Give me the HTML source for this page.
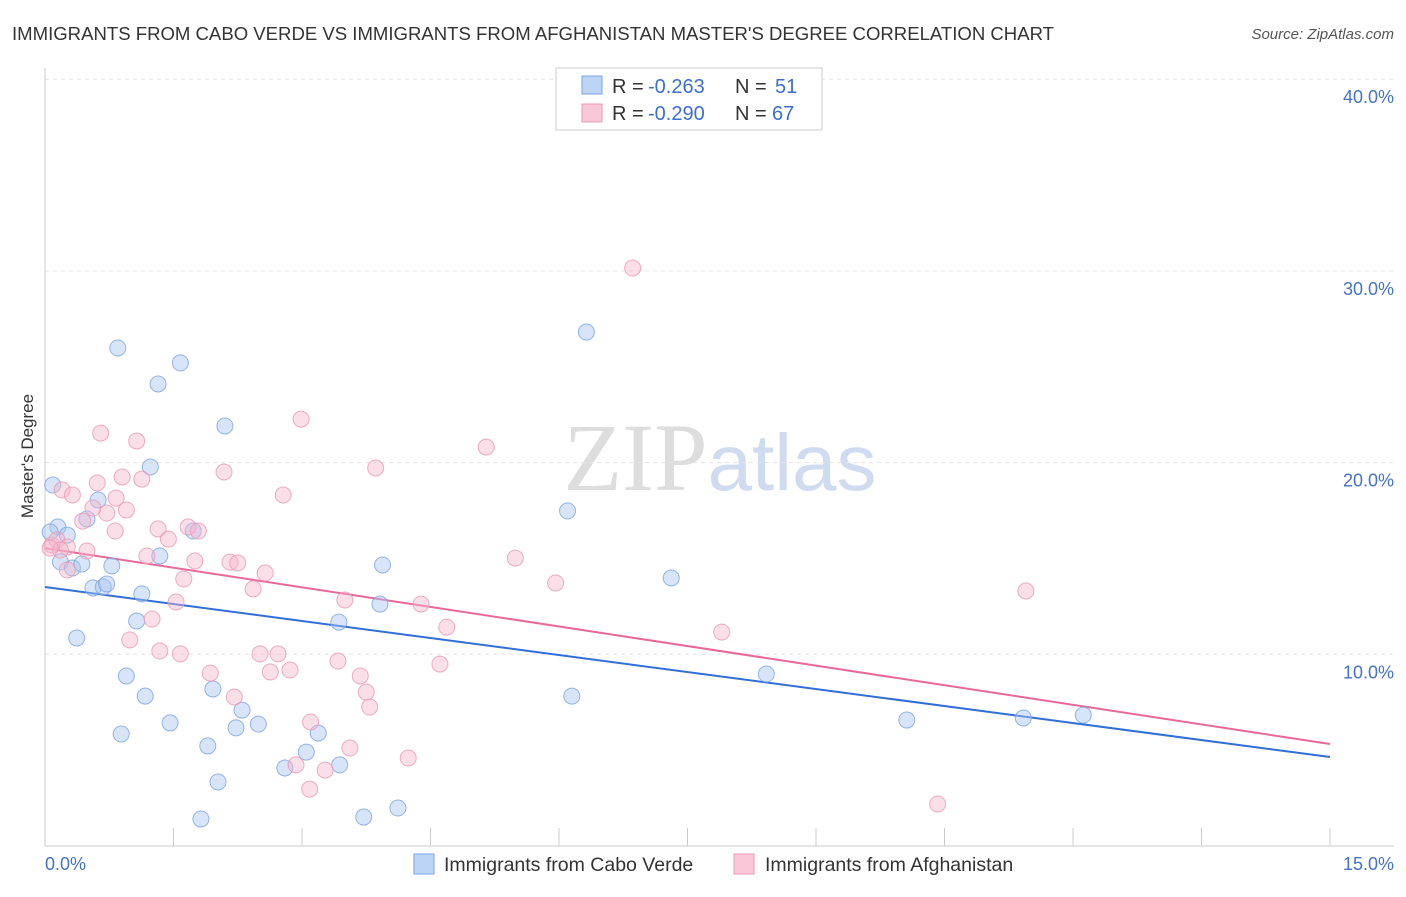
<!DOCTYPE html>
<html><head><meta charset="utf-8"><style>
body{margin:0;background:#fff;font-family:"Liberation Sans",sans-serif;}
</style></head><body>
<svg width="1406" height="892" xmlns="http://www.w3.org/2000/svg" font-family="Liberation Sans, sans-serif">
<text x="12" y="40" font-size="18" fill="#333" textLength="1042" lengthAdjust="spacingAndGlyphs">IMMIGRANTS FROM CABO VERDE VS IMMIGRANTS FROM AFGHANISTAN MASTER'S DEGREE CORRELATION CHART</text>
<text x="1394" y="39" font-size="15" fill="#555" text-anchor="end" font-style="italic">Source: ZipAtlas.com</text>
<text x="720" y="490" font-size="96" text-anchor="middle"><tspan fill="#ddd" font-family="Liberation Serif, serif">ZIP</tspan><tspan fill="#cfdcf0" font-size="80">atlas</tspan></text>
<g id="grid"></g><g id="axes"></g><g id="lines"></g><g id="pts"></g>
<text transform="translate(33,456) rotate(-90)" font-size="17" fill="#333" text-anchor="middle">Master's Degree</text>
<text x="45" y="870" font-size="18" fill="#4472c4">0.0%</text>
<text x="1394" y="870" font-size="18" fill="#4472c4" text-anchor="end">15.0%</text>
<g>
<rect x="556" y="68" width="266" height="62" fill="#fff" stroke="#ccc"/>
<rect x="582" y="76" width="20" height="18" fill="#bcd4f5" stroke="#7aa4e0"/>
<rect x="582" y="104" width="20" height="18" fill="#f9c8d8" stroke="#e89ab5"/>
<text x="612" y="93" font-size="20" fill="#333">R =</text>
<text x="648" y="93" font-size="20" fill="#3a6fd1">-0.263</text>
<text x="735" y="93" font-size="20" fill="#333">N =</text>
<text x="775" y="93" font-size="20" fill="#3a6fd1">51</text>
<text x="612" y="120" font-size="20" fill="#333">R =</text>
<text x="648" y="120" font-size="20" fill="#3a6fd1">-0.290</text>
<text x="735" y="120" font-size="20" fill="#333">N =</text>
<text x="772" y="120" font-size="20" fill="#3a6fd1">67</text>
</g>
<g>
<rect x="414" y="854" width="20" height="20" fill="#bcd4f5" stroke="#7aa4e0"/>
<text x="444" y="871" font-size="19.5" fill="#333">Immigrants from Cabo Verde</text>
<rect x="734" y="854" width="20" height="20" fill="#f9c8d8" stroke="#e89ab5"/>
<text x="765" y="871" font-size="19.5" fill="#333">Immigrants from Afghanistan</text>
</g>
</svg>
<script>
const yTicks=[10,20,30,40];
const yTickLabels=["10.0%","20.0%","30.0%","40.0%"];
const xTicks=[0,1.5,3,4.5,6,7.5,9,10.5,12,13.5,15];
const blueX=[.09,.15,.18,.26,.32,.37,.43,.49,.56,.62,.68,.72,.78,.85,.95,.89,1.07,1.13,1.17,1.23,1.32,1.34,1.46,1.58,1.73,1.82,1.90,1.96,2.02,2.10,2.23,2.30,2.49,2.80,3.05,3.19,3.43,3.44,3.72,3.91,3.94,4.12,6.10,6.15,6.32,7.31,8.42,10.06,11.42,12.12,.06];
const blueY=[18.83,16.64,14.82,16.22,14.50,10.85,14.71,17.06,13.46,18.05,13.51,13.67,14.61,25.98,8.87,5.84,11.74,13.15,7.82,19.77,24.10,15.13,6.42,25.20,16.43,1.41,5.22,8.19,3.34,21.91,6.16,7.09,6.36,4.07,4.90,5.89,11.68,4.23,1.51,12.62,14.66,1.98,17.48,7.82,26.81,13.98,8.97,6.57,6.68,6.83,16.38];
const pinkX=[6.86,2.99,5.15,.65,1.07,3.86,2.09,.20,.32,.61,.90,1.13,.83,.95,.72,.44,.56,2.78,1.32,1.67,1.79,1.44,.08,.14,.26,.49,1.19,1.75,2.16,2.25,.26,2.57,1.62,2.43,5.49,5.96,1.53,3.50,4.39,1.25,.99,4.69,1.34,1.58,2.51,2.72,1.93,2.63,2.86,3.42,3.68,4.61,7.90,11.45,2.21,3.75,3.79,3.10,3.56,2.93,3.27,3.09,4.24,10.42,.18,.06,.82];
const pinkY=[30.15,22.27,20.81,21.54,21.13,19.72,19.51,18.57,18.31,18.94,19.25,19.14,18.15,17.53,17.37,16.95,17.63,18.31,16.54,16.64,16.43,16.01,15.70,15.96,15.60,15.39,15.13,14.87,14.81,14.76,14.40,14.24,13.93,13.41,15.02,13.72,12.73,12.83,12.62,11.84,10.75,11.42,10.17,10.02,10.02,10.02,9.02,9.08,9.18,9.65,8.87,9.49,11.16,13.30,7.77,8.03,7.25,6.47,5.11,4.23,3.96,2.97,4.59,2.19,15.44,15.54,16.43];
const blueLine=[13.51,4.64];
const pinkLine=[15.54,5.32];
const X=v=>45+v*(1285/15), Y=v=>846-v*19.17;
const NS="http://www.w3.org/2000/svg";
function mk(t,a,p){const e=document.createElementNS(NS,t);for(const k in a)e.setAttribute(k,a[k]);document.getElementById(p).appendChild(e);return e;}
yTicks.forEach((t,i)=>{
 const g=mk('line',{x1:45,x2:1394,y1:Y(t),y2:Y(t),stroke:'#e4e4e4','stroke-dasharray':'4,4'},'grid');
 
 
 const l=mk('text',{x:1394,y:Y(t)+24,'font-size':18,fill:'#4472c4','text-anchor':'end'},'axes');
 l.textContent=yTickLabels[i];
 
 
});
const ax=mk('line',{x1:45,x2:45,y1:68,y2:846,stroke:'#ccc'},'axes');


const bx=mk('line',{x1:45,x2:1394,y1:846,y2:846,stroke:'#ccc'},'axes');


xTicks.forEach(t=>{
 const e=mk('line',{x1:X(t),x2:X(t),y1:828,y2:846,stroke:'#ccc'},'axes');
 
 
});
function pts(xs,ys,fill,stroke,name){xs.forEach((x,i)=>{
 const c=mk('circle',{cx:X(x),cy:Y(ys[i]),r:8,fill:fill,'fill-opacity':0.45,stroke:stroke,'stroke-opacity':0.8,'stroke-width':1},'pts');
 
 
});}
pts(blueX,blueY,'#a9c6f0','#7aa4e0','cabo-verde-point');
pts(pinkX,pinkY,'#f5b5cb','#e89ab5','afghanistan-point');
const b=mk('line',{x1:X(0),y1:Y(blueLine[0]),x2:X(15),y2:Y(blueLine[1]),stroke:'#2f6fd6','stroke-width':2},'lines');


const p=mk('line',{x1:X(0),y1:Y(pinkLine[0]),x2:X(15),y2:Y(pinkLine[1]),stroke:'#e8689a','stroke-width':2},'lines');


</script>
</body></html>
